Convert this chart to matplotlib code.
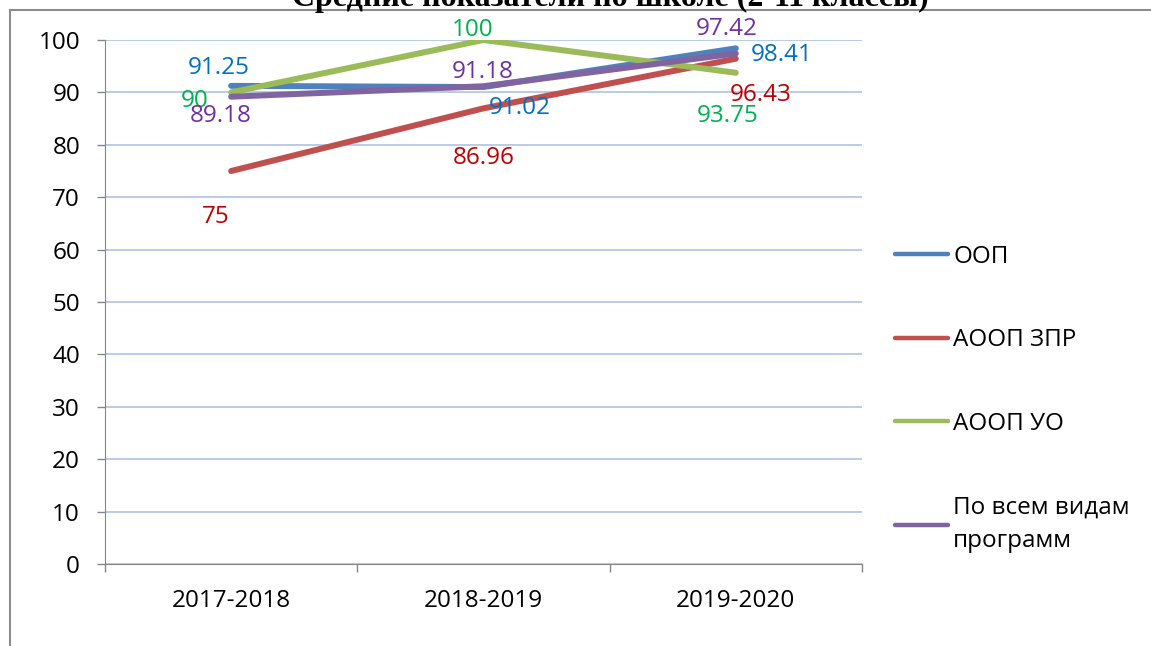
import numpy as np
import matplotlib
matplotlib.use('Agg')
import matplotlib.pyplot as plt
from matplotlib.lines import Line2D

plt.rcParams['font.family'] = ['Open Sans', 'DejaVu Sans']

# данные
years = ['2017-2018', '2018-2019', '2019-2020']
oop = [91.25, 91.02, 98.41]
aoop_zpr = [75, 86.96, 96.43]
aoop_uo = [90, 100, 93.75]
all_prog = [89.18, 91.18, 97.42]
series_names = ['ООП', 'АООП ЗПР', 'АООП УО', 'По всем видам\nпрограмм']

line_colors = ['#4f81bd', '#c0504d', '#9bbb59', '#8064a2']
text_colors = ['#0070c0', '#c00000', '#00b050', '#7030a0']

# смещения подписей (пиксели)
offsets = [
    [(-12, 18), (36, -21), (46, -7)],
    [(-15, -46), (0, -50), (25, -36)],
    [(-37, -9), (-11, 10), (-8, -43)],
    [(-10, -19), (-1, 14), (-9, 25)],
]

fs = 17.5

fig = plt.figure(figsize=(11.51, 6.46), dpi=100)
ax = fig.add_axes([105 / 1151, 1 - 564 / 646, (862 - 105) / 1151, (564 - 40) / 646])

x = np.arange(len(years))
for vals, name, lc, tc, offs in zip([oop, aoop_zpr, aoop_uo, all_prog], series_names,
                                    line_colors, text_colors, offsets):
    ax.plot(x, vals, color=lc, lw=4.3, solid_capstyle='round', label=name, zorder=3)
    for xi, v, (dx, dy) in zip(x, vals, offs):
        ax.annotate(f'{v:g}', (xi, v), xytext=(dx, dy), textcoords='offset pixels',
                    ha='center', va='center', color=tc, fontsize=fs, zorder=4)

ax.set_xlim(-0.5, 2.5)
ax.set_ylim(0, 100)
ax.set_yticks(np.arange(0, 101, 10))
ax.set_xticks([-0.5, 0.5, 1.5, 2.5])
ax.set_xticklabels([])
ax.set_xticks(x, minor=True)
ax.set_xticklabels(years, minor=True)
ax.tick_params(axis='x', which='major', direction='out', length=6, width=1, color='#868686')
ax.tick_params(axis='x', which='minor', length=0, pad=18, labelsize=fs)
ax.tick_params(axis='y', direction='out', length=6, width=1, color='#868686', pad=12, labelsize=fs)

ax.yaxis.grid(True, color='#b9cbe8', lw=1.4)
ax.set_axisbelow(True)
ax.spines[['top', 'right']].set_visible(False)
ax.spines[['left', 'bottom']].set_color('#868686')
ax.spines['bottom'].set_zorder(5)

leg = fig.legend(loc='center left', bbox_to_anchor=(895 / 1151, 1 - 399 / 646), frameon=False,
                 fontsize=fs, handlelength=2.2, handletextpad=0.2, labelspacing=2.45,
                 borderpad=0, borderaxespad=0)
for t in leg.get_texts():
    t.set_linespacing(1.55)
for h in leg.legend_handles:
    h.set_linewidth(3.2)

# рамка
fig.add_artist(Line2D([10 / 1151, 1], [1 - 10 / 646] * 2, transform=fig.transFigure,
                      color='#8c8c8c', lw=1.5))
fig.add_artist(Line2D([10 / 1151] * 2, [0, 1 - 10 / 646], transform=fig.transFigure,
                      color='#8c8c8c', lw=1.5))

fig.text(610 / 1151, 1 - 6 / 646, 'Средние показатели по школе (2-11 классы)',
         ha='center', va='baseline', fontsize=23, fontweight='bold',
         family=['Liberation Serif', 'DejaVu Serif'])

fig.savefig('out.png', dpi=100)
